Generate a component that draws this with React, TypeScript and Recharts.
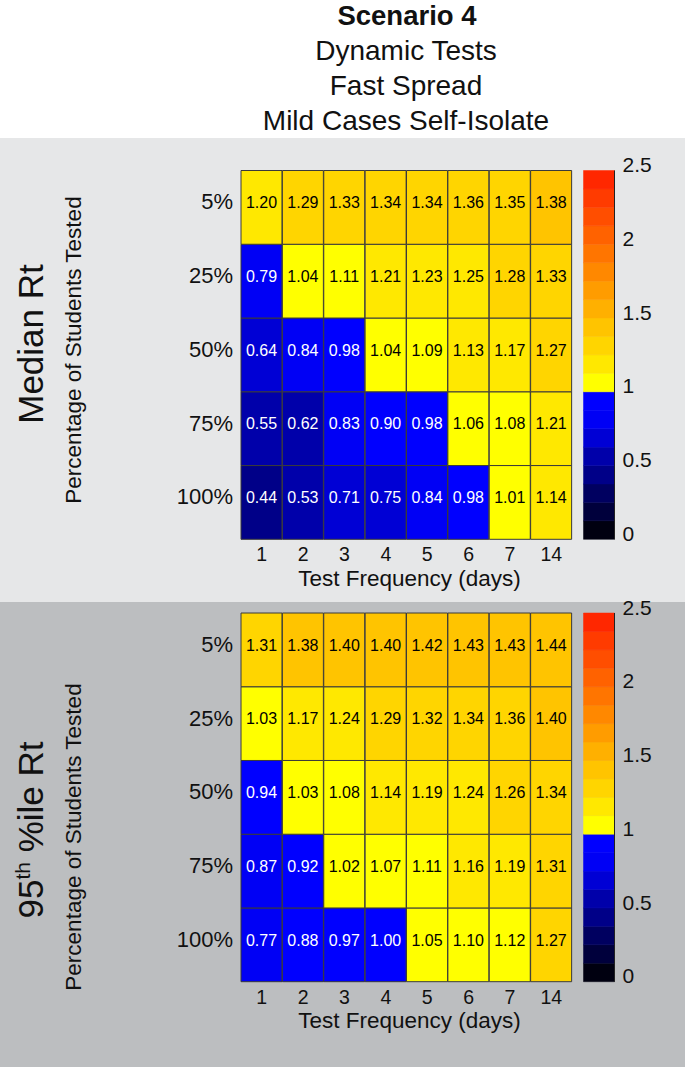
import React from 'react';
import { BarChart, Bar, XAxis, YAxis, Cell, LabelList } from 'recharts';

const FONT = '"Liberation Sans", Arial, Helvetica, sans-serif';
const INK = '#111111';

// Categories
const frequencies = ['1', '2', '3', '4', '5', '6', '7', '14'];
// rows listed top to bottom
const percentages = ['5%', '25%', '50%', '75%', '100%'];

// Median Rt (rows: 5%, 25%, 50%, 75%, 100%)
const median5 = [1.20, 1.29, 1.33, 1.34, 1.34, 1.36, 1.35, 1.38];
const median25 = [0.79, 1.04, 1.11, 1.21, 1.23, 1.25, 1.28, 1.33];
const median50 = [0.64, 0.84, 0.98, 1.04, 1.09, 1.13, 1.17, 1.27];
const median75 = [0.55, 0.62, 0.83, 0.90, 0.98, 1.06, 1.08, 1.21];
const median100 = [0.44, 0.53, 0.71, 0.75, 0.84, 0.98, 1.01, 1.14];

// 95th percentile Rt
const p95_5 = [1.31, 1.38, 1.40, 1.40, 1.42, 1.43, 1.43, 1.44];
const p95_25 = [1.03, 1.17, 1.24, 1.29, 1.32, 1.34, 1.36, 1.40];
const p95_50 = [0.94, 1.03, 1.08, 1.14, 1.19, 1.24, 1.26, 1.34];
const p95_75 = [0.87, 0.92, 1.02, 1.07, 1.11, 1.16, 1.19, 1.31];
const p95_100 = [0.77, 0.88, 0.97, 1.00, 1.05, 1.10, 1.12, 1.27];

// Colour scale
const colorbarBounds = [0, 0.125, 0.25, 0.375, 0.5, 0.625, 0.75, 0.875, 1.0, 1.125, 1.25, 1.375, 1.5, 1.625, 1.75, 1.875, 2.0, 2.125, 2.25, 2.375, 2.5];
const levelColors = [
  '#000010', '#00003c', '#000060', '#000088', '#0000aa', '#0000d5', '#0000f5', '#0000ff',
  '#ffff00', '#ffe800', '#ffd500', '#ffc400', '#ffb000', '#ff9c00', '#ff8800', '#ff7500',
  '#ff6200', '#ff4e00', '#ff3b00', '#ff2700',
];
const colorbarTicks = [0, 0.5, 1, 1.5, 2, 2.5];

function levelColor(v: number): string {
  for (let i = 0; i < levelColors.length; i++) {
    if (v <= colorbarBounds[i + 1] + 1e-9) return levelColors[i];
  }
  return levelColors[levelColors.length - 1];
}

// Stack order bottom -> top: 100%, 75%, 50%, 25%, 5%
function buildData(rowsTopToBottom: number[][]) {
  const bottomUp = [...rowsTopToBottom].reverse();
  return frequencies.map((f, c) => {
    const entry: Record<string, any> = { freq: f };
    bottomUp.forEach((row, k) => {
      entry[`r${k}`] = 1;
      entry[`v${k}`] = row[c];
    });
    return entry;
  });
}

const medianRows = [median5, median25, median50, median75, median100];
const p95Rows = [p95_5, p95_25, p95_50, p95_75, p95_100];
const yTickValues = [0.5, 1.5, 2.5, 3.5, 4.5];
const yTickLabels = [...percentages].reverse();

const XTick = (props: any) => {
  const { x, y, payload } = props;
  return (
    <text x={x} y={y} dy="0.71em" textAnchor="middle" fontSize={19.5} fill={INK} fontFamily={FONT}>
      {payload.value}
    </text>
  );
};

const YTick = (props: any) => {
  const { x, y, payload } = props;
  const idx = yTickValues.indexOf(payload.value);
  return (
    <text x={x} y={y - 6} dy="0.36em" textAnchor="end" fontSize={22} fill={INK} fontFamily={FONT}>
      {yTickLabels[idx]}
    </text>
  );
};

const CbTick = (props: any) => {
  const { x, y, payload } = props;
  return (
    <text x={x} y={y - 6} dy="0.36em" textAnchor="start" fontSize={21} fill={INK} fontFamily={FONT}>
      {String(payload.value)}
    </text>
  );
};

const CellLabel = (props: any) => {
  const vb = props.viewBox && props.viewBox.width != null ? props.viewBox : props;
  const { x, y, width, height } = vb;
  const v = Number(props.value);
  return (
    <text
      x={x + width / 2}
      y={y + height / 2 - 5}
      dy="0.36em"
      textAnchor="middle"
      fontSize={16}
      fill={v <= 1.0 ? '#ffffff' : '#000000'}
      fontFamily={FONT}
    >
      {v.toFixed(2)}
    </text>
  );
};

function Heatmap({ rows, top, height, marginTop, marginBottom }: any) {
  const data = buildData(rows);
  const keys = [0, 1, 2, 3, 4];
  return (
    <div style={{ position: 'absolute', left: 0, top, width: 685, height }}>
      <BarChart
        width={685}
        height={height}
        data={data}
        margin={{ top: marginTop, right: 113, bottom: marginBottom, left: 141 }}
        barCategoryGap={0}
        barGap={0}
      >
        <XAxis
          dataKey="freq"
          height={60}
          tickLine={false}
          axisLine={false}
          interval={0}
          tick={<XTick />}
          label={{
            value: 'Test Frequency (days)',
            position: 'insideBottom',
            offset: 13.5,
            dx: 3,
            fontSize: 22.5,
            fill: INK,
            fontFamily: FONT,
          }}
        />
        <YAxis
          type="number"
          domain={[0, 5]}
          ticks={yTickValues}
          interval={0}
          width={100}
          tickLine={false}
          axisLine={false}
          tick={<YTick />}
        />
        {keys.map((k) => (
          <Bar key={k} dataKey={`r${k}`} stackId="h" isAnimationActive={false}>
            {data.map((d, i) => (
              <Cell key={i} fill={levelColor(d[`v${k}`])} stroke="#3a3a3a" strokeWidth={1} />
            ))}
            <LabelList dataKey={`v${k}`} content={CellLabel} />
          </Bar>
        ))}
      </BarChart>
    </div>
  );
}

function Colorbar({ top, height, marginTop, marginBottom }: any) {
  const entry: Record<string, any> = { name: 'cb' };
  levelColors.forEach((_, i) => {
    entry[`l${i}`] = colorbarBounds[i + 1] - colorbarBounds[i];
  });
  const cbData = [entry];
  const pad = 20;
  return (
    <div style={{ position: 'absolute', left: 0, top: top - pad, width: 685, height: height + pad }}>
      <BarChart
        width={685}
        height={height + pad}
        data={cbData}
        margin={{ top: marginTop + pad, right: 10.5, bottom: marginBottom + 60, left: 583.5 }}
        barCategoryGap={0}
        barGap={0}
      >
        <XAxis dataKey="name" height={0} tick={false} tickLine={false} axisLine={{ stroke: '#222' }} />
        <XAxis xAxisId="top" dataKey="name" orientation="top" height={0} tick={false} tickLine={false} axisLine={{ stroke: '#222' }} />
        <YAxis
          orientation="right"
          type="number"
          domain={[0, 2.5]}
          ticks={colorbarTicks}
          interval={0}
          width={60}
          tickLine={false}
          axisLine={{ stroke: '#222' }}
          tick={<CbTick />}
        />
        <YAxis yAxisId="l" orientation="left" type="number" domain={[0, 2.5]} width={0} tick={false} tickLine={false} axisLine={{ stroke: '#222' }} />
        {levelColors.map((c, i) => (
          <Bar key={i} dataKey={`l${i}`} stackId="cb" fill={c} stroke={c} strokeWidth={0.5} isAnimationActive={false} />
        ))}
      </BarChart>
    </div>
  );
}

export default function App() {
  return (
    <div style={{ position: 'absolute', left: 0, top: 0, width: 685, height: 1067, background: '#ffffff', overflow: 'hidden', fontFamily: FONT }}>
      <div style={{ position: 'absolute', left: 0, top: 138, width: 685, height: 464, background: '#e6e7e8' }} />
      <div style={{ position: 'absolute', left: 0, top: 602, width: 685, height: 465, background: '#bcbec0' }} />
      <svg width={685} height={1067} style={{ position: 'absolute', left: 0, top: 0 }}>
        <g fontFamily={FONT} fill={INK} textAnchor="middle">
          <text x={407} y={25} fontSize={27.5} fontWeight="bold">Scenario 4</text>
          <text x={406} y={60} fontSize={28}>Dynamic Tests</text>
          <text x={406} y={94.5} fontSize={28}>Fast Spread</text>
          <text x={406} y={130} fontSize={28}>Mild Cases Self-Isolate</text>
          <text transform="translate(43,344) rotate(-90)" fontSize={35}>Median Rt</text>
          <text transform="translate(81,350) rotate(-90)" fontSize={22.5}>Percentage of Students Tested</text>
          <text transform="translate(43,830) rotate(-90)" fontSize={35}>
            95<tspan dy={-13} fontSize={21}>th</tspan><tspan dy={13}> %ile Rt</tspan>
          </text>
          <text transform="translate(81,837) rotate(-90)" fontSize={22.5}>Percentage of Students Tested</text>
        </g>
      </svg>
      <Heatmap rows={medianRows} top={138} height={464} marginTop={32.5} marginBottom={2.7} />
      <Colorbar top={138} height={464} marginTop={32.5} marginBottom={2.7} />
      <Heatmap rows={p95Rows} top={602} height={465} marginTop={11} marginBottom={25.3} />
      <Colorbar top={602} height={465} marginTop={11} marginBottom={25.3} />
    </div>
  );
}
